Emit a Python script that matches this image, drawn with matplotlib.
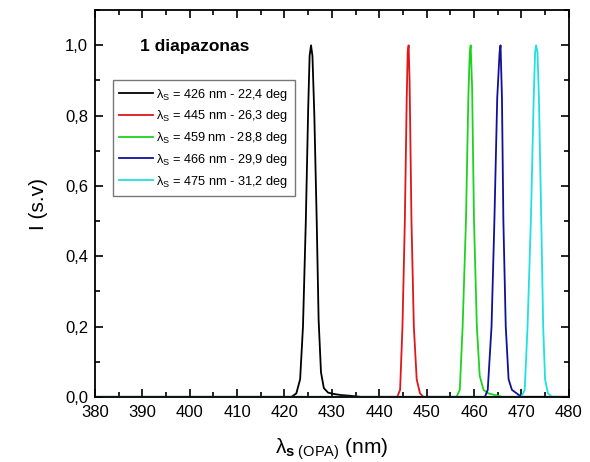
import matplotlib
matplotlib.use("Agg")
import matplotlib.pyplot as plt
from matplotlib.ticker import MultipleLocator, FuncFormatter

plt.rcParams['font.family'] = ['Liberation Sans', 'DejaVu Sans']
plt.rcParams['mathtext.fontset'] = 'custom'
plt.rcParams['mathtext.rm'] = 'Liberation Sans'
plt.rcParams['mathtext.it'] = 'Liberation Sans:italic'
plt.rcParams['mathtext.bf'] = 'Liberation Sans:bold'

# Data (wavelength nm, normalized intensity)
x_426 = [380, 421.5, 422.5, 423.3, 423.9, 424.5, 425.0, 425.3, 425.6, 425.9, 426.3, 426.8, 427.2, 427.7, 428.3, 429.2, 430.5, 432.0, 434.0, 436.0, 480]
y_426 = [0, 0, 0.01, 0.05, 0.2, 0.5, 0.82, 0.97, 1.0, 0.97, 0.8, 0.5, 0.22, 0.07, 0.025, 0.012, 0.008, 0.005, 0.003, 0, 0]

x_445 = [380, 443.8, 444.4, 444.9, 445.4, 445.8, 446.0, 446.2, 446.4, 446.8, 447.3, 447.9, 448.6, 449.3, 480]
y_445 = [0, 0, 0.02, 0.2, 0.5, 0.85, 0.98, 1.0, 0.9, 0.5, 0.2, 0.05, 0.01, 0, 0]

x_459 = [380, 456.3, 457.0, 457.6, 458.3, 458.8, 459.1, 459.3, 459.6, 460.0, 460.6, 461.2, 462.0, 463.0, 464.5, 466.0, 480]
y_459 = [0, 0, 0.02, 0.2, 0.5, 0.85, 0.98, 1.0, 0.88, 0.5, 0.2, 0.06, 0.02, 0.01, 0.005, 0, 0]

x_466 = [380, 462.3, 462.9, 463.7, 464.3, 464.9, 465.4, 465.6, 465.9, 466.2, 466.7, 467.3, 468.0, 469.0, 470.0, 480]
y_466 = [0, 0, 0.02, 0.2, 0.5, 0.85, 0.98, 1.0, 0.85, 0.5, 0.2, 0.05, 0.02, 0.01, 0, 0]

x_475 = [380, 470.0, 470.7, 471.3, 472.0, 472.6, 472.9, 473.1, 473.4, 473.7, 474.2, 474.6, 475.0, 475.6, 476.5, 480]
y_475 = [0, 0, 0.02, 0.2, 0.5, 0.85, 0.98, 1.0, 0.98, 0.85, 0.5, 0.2, 0.05, 0.01, 0, 0]

labels = ['λ$_\\mathregular{S}$ = 426 nm - 22,4 deg',
          'λ$_\\mathregular{S}$ = 445 nm - 26,3 deg',
          'λ$_\\mathregular{S}$ = 459 nm - 28,8 deg',
          'λ$_\\mathregular{S}$ = 466 nm - 29,9 deg',
          'λ$_\\mathregular{S}$ = 475 nm - 31,2 deg']
colors = ['#000000', '#e0161b', '#1fd21f', '#10109a', '#20e0e0']
series_x = [x_426, x_445, x_459, x_466, x_475]
series_y = [y_426, y_445, y_459, y_466, y_475]

fig = plt.figure(figsize=(5.9, 4.62), dpi=100)
ax = fig.add_axes([0.161, 0.141, 0.803, 0.837])

for xs, ys, c, lab in zip(series_x, series_y, colors, labels):
    ax.plot(xs, ys, color=c, lw=1.3, label=lab)

ax.set_xlim(380, 480)
ax.set_ylim(0, 1.1)
ax.xaxis.set_major_locator(MultipleLocator(10))
ax.xaxis.set_minor_locator(MultipleLocator(5))
ax.yaxis.set_major_locator(MultipleLocator(0.2))
ax.yaxis.set_minor_locator(MultipleLocator(0.1))
ax.yaxis.set_major_formatter(FuncFormatter(lambda v, p: f'{v:.1f}'.replace('.', ',')))
ax.tick_params(which='both', direction='in', top=True, right=True, labelsize=12, width=1.2)
ax.tick_params(which='major', length=6)
ax.tick_params(which='minor', length=3.5)
ax.tick_params(axis='x', pad=6)
ax.tick_params(axis='y', pad=5)
for s in ax.spines.values():
    s.set_linewidth(1.3)

ax.set_ylabel('I (s.v)', fontsize=15, labelpad=12)
ax.set_xlabel('λ$_{\\mathbf{s}\\ \\mathregular{(OPA)}}$ (nm)', fontsize=15, labelpad=12)

ax.text(389.5, 0.997, '1 diapazonas', fontsize=12.5, fontweight='bold', va='center', ha='left')

leg = ax.legend(loc='upper left', bbox_to_anchor=(0.038, 0.819), borderaxespad=0, fontsize=9.2,
                frameon=True, fancybox=False, edgecolor='#777777', framealpha=1,
                handlelength=2.6, handletextpad=0.3, borderpad=0.5, labelspacing=0.45)
leg.get_frame().set_linewidth(1.0)

fig.savefig('out.png', dpi=100)
